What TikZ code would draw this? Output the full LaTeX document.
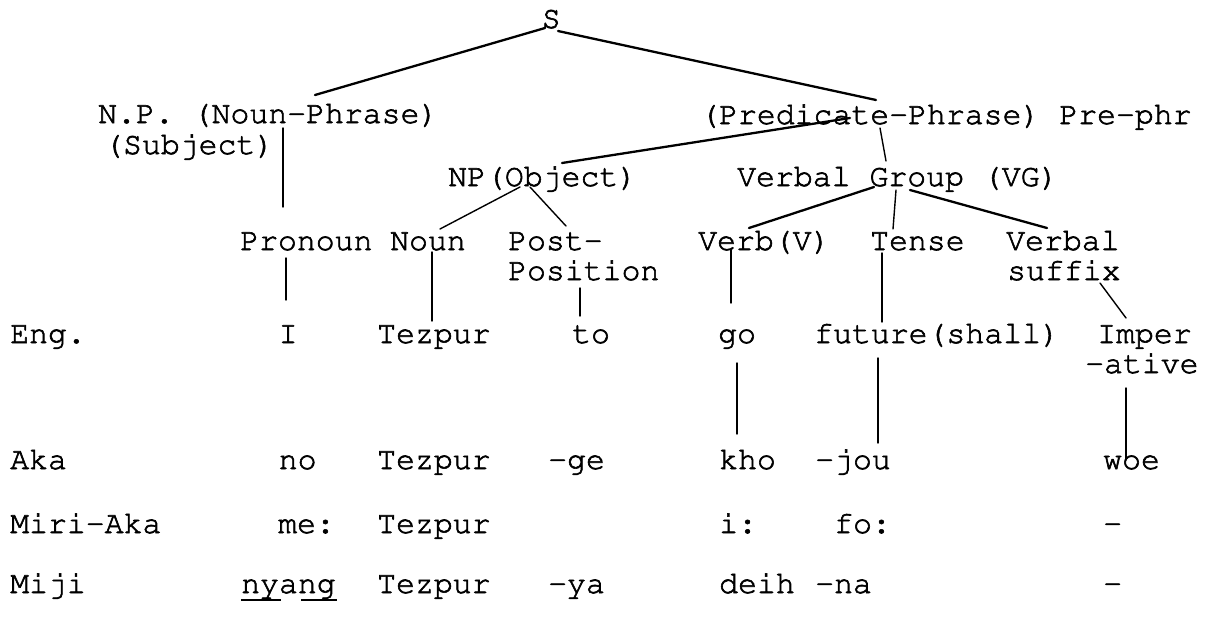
\documentclass[tikz,border=0pt]{standalone}
\usepackage[T1]{fontenc}
\usepackage{courier}
% typewriter text, inked a little heavier by stroking the glyph outlines
\newcommand{\typeink}{\special{pdf:literal direct 2 Tr 0.6 w}}
\tikzset{
  lbl/.style={anchor=base west, inner sep=0pt, text height=18pt, text depth=4pt,
    font=\ttfamily\fontsize{31.5}{36}\selectfont\typeink},
  branch/.style={line width=1.4pt, line cap=round},
  heavy/.style={line width=2.3pt, line cap=round},
}
\begin{document}
\begin{tikzpicture}[x=1pt, y=-1pt]
\fill[white] (0,0) rectangle (1223,627);
\useasboundingbox (0,0) rectangle (1223,627);

% sentence and phrase level
\node[lbl] (S)     at (541.5,28) {S};
\node[lbl] (np)    at (98,123)   {N.P. (Noun-Phrase)};
\node[lbl] (subj)  at (104,154)  {(Subject)};
\node[lbl] (pred)  at (700,124)  {(Predicate-Phrase) Pre-phr};
\node[lbl] (npobj) at (448,186)  {NP(Object)};
\node[lbl] (vg)    at (737,186)  {Verbal Group (VG)};

% word classes
\node[lbl] (pron)  at (240,250)  {Pronoun};
\node[lbl] (noun)  at (390,250)  {Noun};
\node[lbl] (post)  at (508,250)  {Post-};
\node[lbl] (posn)  at (508,280)  {Position};
\node[lbl] (verb)  at (698,250)  {Verb(V)};
\node[lbl] (tense) at (870,250)  {Tense};
\node[lbl] (vsuf)  at (1006,250) {Verbal};
\node[lbl] (suf)   at (1007,280) {suffix};

% English gloss
\node[lbl] (eng)   at (10,343)   {Eng.};
\node[lbl] (eI)    at (278.5,343) {I};
\node[lbl] (etez)  at (377,343)  {Tezpur};
\node[lbl] (eto)   at (572,343)  {to};
\node[lbl] (ego)   at (718,343)  {go};
\node[lbl] (efut)  at (814,343)  {future(shall)};
\node[lbl] (eimp)  at (1097,343) {Imper};
\node[lbl] (eimp2) at (1085,373) {-ative};

% Aka
\node[lbl] (aka)   at (10,469)   {Aka};
\node[lbl] (ano)   at (278.6,469) {no};
\node[lbl] (atez)  at (377,469)  {Tezpur};
\node[lbl] (age)   at (548,469)  {-ge};
\node[lbl] (akho)  at (719,469)  {kho};
\node[lbl] (ajou)  at (815,469)  {-jou};
\node[lbl] (awoe)  at (1103,469) {woe};

% Miri-Aka
\node[lbl] (miri)  at (10,533)   {Miri-Aka};
\node[lbl] (mme)   at (278,533)  {me:};
\node[lbl] (mtez)  at (377,533)  {Tezpur};
\node[lbl] (mi)    at (719,533)  {i:};
\node[lbl] (mfo)   at (834,533)  {fo:};
\node[lbl] (mdash) at (1103,533) {-};

% Miji
\node[lbl] (miji)  at (10,593)   {Miji};
\node[lbl] (jny)   at (241,593)  {nyang};
\node[lbl] (jtez)  at (377,593)  {Tezpur};
\node[lbl] (jya)   at (548,593)  {-ya};
\node[lbl] (jdeih) at (719,593)  {deih};
\node[lbl] (jna)   at (815,593)  {-na};
\node[lbl] (jdash) at (1103,593) {-};

% digraph underlines in nyang
\draw[line width=2.2pt] ([shift={(0,7)}]jny.base west) -- ([shift={(40,7)}]jny.base west);
\draw[line width=2.2pt] ([shift={(60,7)}]jny.base west) -- ([shift={(96,7)}]jny.base west);

% tree branches
\draw[heavy]  ([shift={(3.5,0)}]S.base west)    -- ([shift={(217,-28)}]np.base west);
\draw[heavy]  ([shift={(16.5,3)}]S.base west)   -- ([shift={(176,-24)}]pred.base west);
\draw[branch] ([shift={(185,5)}]np.base west)   -- ([shift={(43,-43)}]pron.base west);
\draw[heavy]  ([shift={(150,-6)}]pred.base west) -- ([shift={(114,-23)}]npobj.base west);
\draw[branch] ([shift={(180,4)}]pred.base west) -- ([shift={(149,-25)}]vg.base west);
\draw[branch] ([shift={(72,1)}]npobj.base west) -- ([shift={(50,-21)}]noun.base west);
\draw[branch] ([shift={(82,1)}]npobj.base west) -- ([shift={(58,-24)}]post.base west);
\draw[heavy]  ([shift={(137,1)}]vg.base west)   -- ([shift={(51,-22)}]verb.base west);
\draw[branch] ([shift={(159,4)}]vg.base west)   -- ([shift={(23,-21)}]tense.base west);
\draw[heavy]  ([shift={(173,4)}]vg.base west)   -- ([shift={(41,-22)}]vsuf.base west);

% word classes to glosses
\draw[branch] ([shift={(46,8)}]pron.base west)  -- ([shift={(7.5,-43)}]eI.base west);
\draw[branch] ([shift={(42,2)}]noun.base west)  -- ([shift={(55,-22)}]etez.base west);
\draw[branch] ([shift={(72,8)}]posn.base west)  -- ([shift={(8,-27)}]eto.base west);
\draw[branch] ([shift={(33,0)}]verb.base west)  -- ([shift={(13,-40)}]ego.base west);
\draw[branch] ([shift={(12,3)}]tense.base west) -- ([shift={(68,-21)}]efut.base west);
\draw[branch] ([shift={(93,3)}]suf.base west)   -- ([shift={(29,-25)}]eimp.base west);

% glosses to Aka forms
\draw[branch] ([shift={(19,20)}]ego.base west)   -- ([shift={(18,-35)}]akho.base west);
\draw[branch] ([shift={(64,15)}]efut.base west)  -- ([shift={(63,-26)}]ajou.base west);
\draw[branch] ([shift={(41,15)}]eimp2.base west) -- ([shift={(23,-9)}]awoe.base west);
\end{tikzpicture}
\end{document}
